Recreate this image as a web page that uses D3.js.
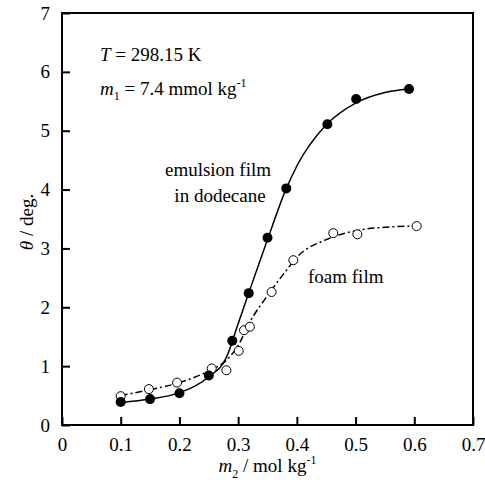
<!DOCTYPE html>
<html lang="en">
<head>
    <meta charset="UTF-8">
    <title>Contact angle vs m2</title>
    <script src="https://d3js.org/d3.v7.min.js"></script>
    <style>
        body {
            background-color: #ffffff;
            margin: 0;
        }
        svg text {
            font-family: "Liberation Serif", "Times New Roman", Times, serif;
            fill: #000;
        }
        .axis path { display: none; }
        .axis line { stroke: #000; stroke-width: 2; }
        .axis text { font-size: 19px; font-family: "Liberation Serif", "Times New Roman", Times, serif; }
        .frame { fill: none; stroke: #000; stroke-width: 2; }
        .emulsionLine { fill: none; stroke: #000; stroke-width: 1.5; }
        .foamLine { fill: none; stroke: #000; stroke-width: 1.5; stroke-dasharray: 7,3,2,3; }
        .note { font-size: 19px; }
    </style>
</head>
<body>
<div id="chart"></div>
<script>
    // measured points, emulsion film in dodecane (filled)
    var emulsionM2 = [0.1, 0.15, 0.2, 0.25, 0.29, 0.318, 0.35, 0.382, 0.452, 0.501, 0.591];
    var emulsionTheta = [0.39, 0.44, 0.54, 0.84, 1.43, 2.24, 3.18, 4.02, 5.11, 5.54, 5.71];

    // measured points, foam film (open)
    var foamM2 = [0.1, 0.148, 0.196, 0.255, 0.28, 0.301, 0.31, 0.32, 0.357, 0.394, 0.462, 0.503, 0.604];
    var foamTheta = [0.49, 0.61, 0.72, 0.96, 0.93, 1.26, 1.61, 1.67, 2.26, 2.80, 3.26, 3.24, 3.38];

    // fitted curves as drawn on the figure
    var emulsionFitM2 = [0.1, 0.15, 0.2, 0.25, 0.28, 0.3, 0.32, 0.35, 0.38, 0.4, 0.45, 0.5, 0.55, 0.59];
    var emulsionFitTheta = [0.38, 0.44, 0.55, 0.82, 1.15, 1.72, 2.3, 3.15, 3.97, 4.4, 5.1, 5.47, 5.65, 5.71];
    var foamFitM2 = [0.1, 0.15, 0.2, 0.25, 0.28, 0.3, 0.32, 0.35, 0.38, 0.4, 0.45, 0.5, 0.55, 0.604];
    var foamFitTheta = [0.5, 0.6, 0.72, 0.92, 1.1, 1.35, 1.75, 2.2, 2.6, 2.85, 3.15, 3.3, 3.36, 3.38];

    var xTicks = [0, 0.1, 0.2, 0.3, 0.4, 0.5, 0.6, 0.7];
    var yTicks = [0, 1, 2, 3, 4, 5, 6, 7];

    var margin = {top: 13, right: 12, bottom: 63, left: 62},
        width = 485 - margin.left - margin.right,
        height = 488 - margin.top - margin.bottom;

    var svg = d3.select("#chart").append("svg")
        .attr("width", 485)
        .attr("height", 488)
      .append("g")
        .attr("transform", "translate(" + margin.left + "," + margin.top + ")");

    var x = d3.scaleLinear().domain([0, 0.7]).range([0, width]);
    var y = d3.scaleLinear().domain([0, 7]).range([height, 0]);

    // axes with inward ticks
    svg.append("g")
        .attr("class", "axis")
        .attr("transform", "translate(0," + height + ")")
        .call(d3.axisBottom(x).tickValues(xTicks).tickSize(-8).tickPadding(13)
            .tickFormat(function(d) { return d === 0 ? "0" : d3.format(".1f")(d); }));

    svg.append("g")
        .attr("class", "axis")
        .call(d3.axisLeft(y).tickValues(yTicks).tickSize(-8).tickPadding(12)
            .tickFormat(d3.format("d")));

    svg.append("rect")
        .attr("class", "frame")
        .attr("width", width)
        .attr("height", height);

    // curves
    var line = d3.line()
        .x(function(d) { return x(d[0]); })
        .y(function(d) { return y(d[1]); })
        .curve(d3.curveMonotoneX);

    svg.append("path")
        .datum(d3.zip(emulsionFitM2, emulsionFitTheta))
        .attr("class", "emulsionLine")
        .attr("d", line);

    svg.append("path")
        .datum(d3.zip(foamFitM2, foamFitTheta))
        .attr("class", "foamLine")
        .attr("d", line);

    // points
    svg.selectAll(".foamPt")
        .data(d3.zip(foamM2, foamTheta))
      .enter().append("circle")
        .attr("class", "foamPt")
        .attr("cx", function(d) { return x(d[0]); })
        .attr("cy", function(d) { return y(d[1]); })
        .attr("r", 4.5)
        .attr("fill", "#fff")
        .attr("stroke", "#000")
        .attr("stroke-width", 1);

    svg.selectAll(".emPt")
        .data(d3.zip(emulsionM2, emulsionTheta))
      .enter().append("circle")
        .attr("class", "emPt")
        .attr("cx", function(d) { return x(d[0]); })
        .attr("cy", function(d) { return y(d[1]); })
        .attr("r", 5)
        .attr("fill", "#000");

    // annotations
    var t1 = svg.append("text").attr("class", "note").attr("x", 38).attr("y", 48);
    t1.append("tspan").attr("font-style", "italic").text("T");
    t1.append("tspan").text(" = 298.15 K");

    var t2 = svg.append("text").attr("class", "note").attr("x", 38).attr("y", 82);
    t2.append("tspan").attr("font-style", "italic").text("m");
    t2.append("tspan").attr("font-size", "12px").attr("dy", 5).text("1");
    t2.append("tspan").attr("dy", -5).text(" = 7.4 mmol kg");
    t2.append("tspan").attr("font-size", "12px").attr("dy", -8).text("-1");

    svg.append("text").attr("class", "note")
        .attr("x", 156).attr("y", 163).attr("text-anchor", "middle")
        .text("emulsion film");
    svg.append("text").attr("class", "note")
        .attr("x", 158).attr("y", 189).attr("text-anchor", "middle")
        .text("in dodecane");

    svg.append("text").attr("class", "note")
        .attr("x", 246).attr("y", 270)
        .text("foam film");

    // axis titles
    var xt = svg.append("text").attr("class", "note")
        .attr("x", width / 2).attr("y", height + 47).attr("text-anchor", "middle");
    xt.append("tspan").attr("font-style", "italic").text("m");
    xt.append("tspan").attr("font-size", "12px").attr("dy", 6).text("2");
    xt.append("tspan").attr("dy", -6).text(" / mol kg");
    xt.append("tspan").attr("font-size", "12px").attr("dy", -8).text("-1");

    var yt = svg.append("text").attr("class", "note")
        .attr("transform", "translate(-29," + (height / 2 + 3) + ") rotate(-90)")
        .attr("text-anchor", "middle");
    yt.append("tspan").attr("font-style", "italic").text("θ");
    yt.append("tspan").text(" / deg.");
</script>
</body>
</html>
